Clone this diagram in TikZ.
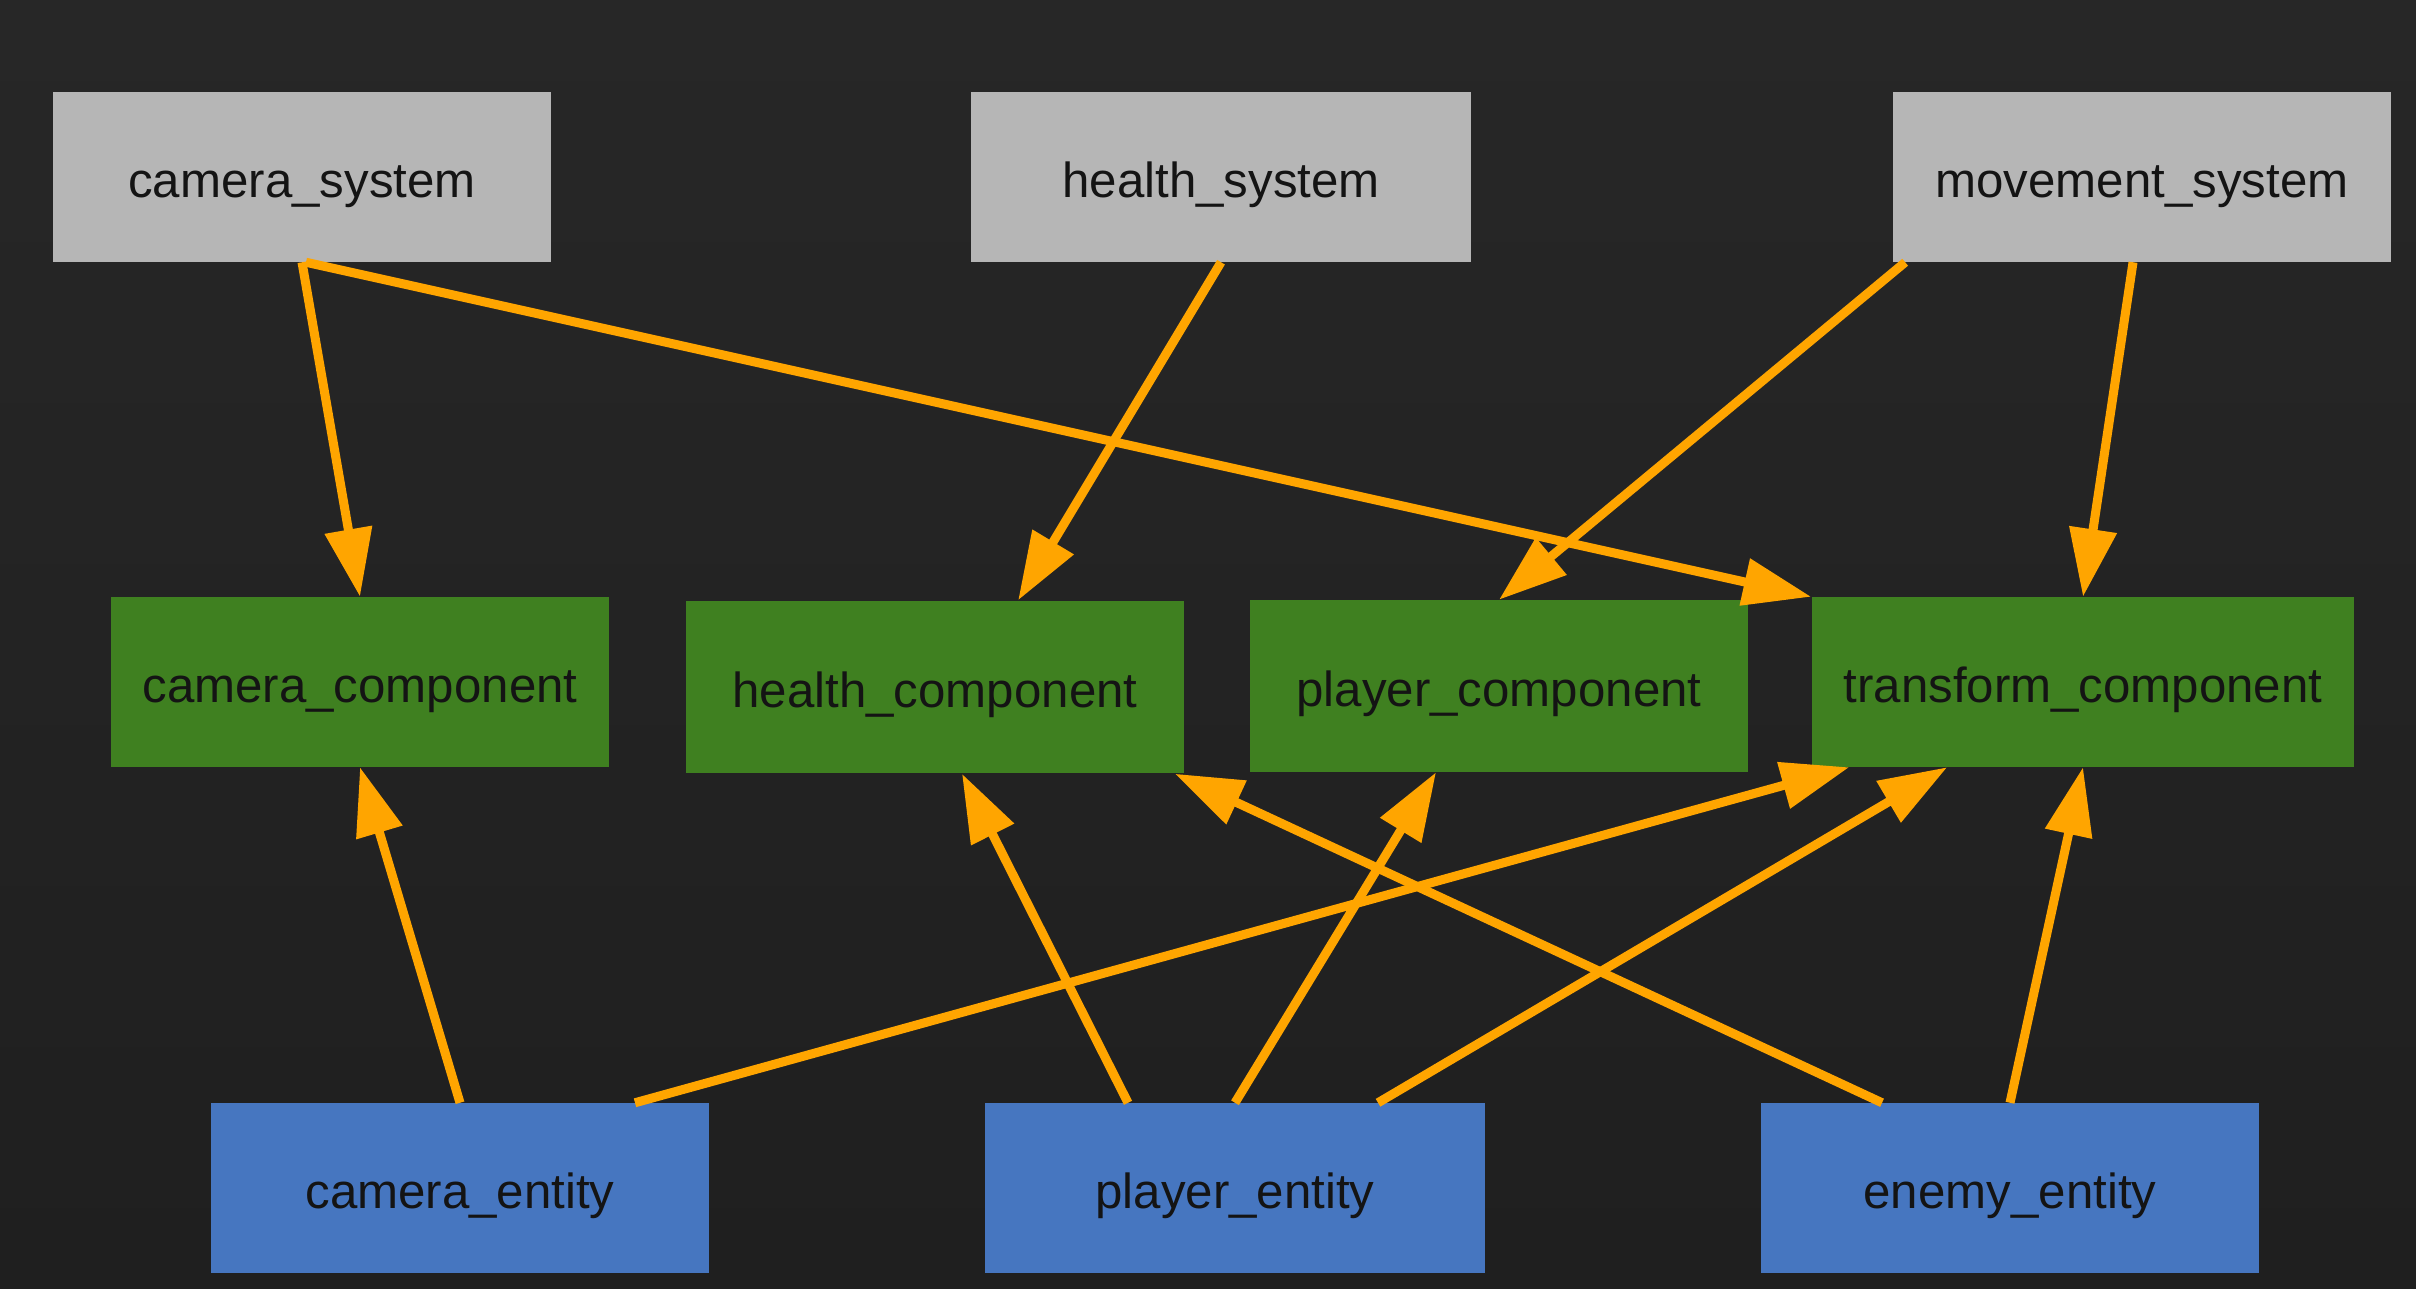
\documentclass[tikz,border=0pt]{standalone}
\usepackage{fontspec}
\setmainfont{Liberation Sans}
\usetikzlibrary{arrows.meta,calc}
\definecolor{bgtop}{HTML}{272727}
\definecolor{bgbot}{HTML}{1F1F1F}
\definecolor{sysgray}{HTML}{B6B6B6}
\definecolor{compgreen}{HTML}{3F8020}
\definecolor{entblue}{HTML}{4676C0}
\definecolor{arrorange}{HTML}{FFA500}
\tikzset{
  box/.style={rectangle, inner sep=0pt, minimum width=4.98cm, minimum height=1.69cm,
    text height=0.46cm, text depth=0.06cm,
    font=\fontsize{14pt}{16pt}\selectfont, text=black!92},
  sysbox/.style={box, fill=sysgray},
  compbox/.style={box, fill=compgreen},
  entbox/.style={box, fill=entblue},
  link/.style={draw=arrorange, line width=0.09cm,
    -{Triangle[length=0.68cm,width=0.46cm]}, fill=arrorange},
}
\begin{document}
\begin{tikzpicture}[x=0.01cm,y=-0.01cm]
\useasboundingbox (0,0) rectangle (2416,1288);
\shade[top color=bgtop, bottom color=bgbot] (0,0) rectangle (2416,1288);

% systems
\node[sysbox] (cs) at (302,177) {camera\_system};
\node[sysbox, minimum width=5.00cm] (hs) at (1221,177) {health\_system};
\node[sysbox] (ms) at (2142,177) {movement\_system};

% components
\node[compbox] (cc) at (360,682) {camera\_component};
\node[compbox, minimum height=1.72cm] (hc) at (935,687) {health\_component};
\node[compbox, minimum height=1.71cm] (pc) at (1499,686) {player\_component};
\node[compbox, minimum width=5.42cm] (tc) at (2083,682) {transform\_component};

% entities
\node[entbox] (ce) at (460,1188) {camera\_entity};
\node[entbox, minimum width=5.00cm] (pe) at (1235,1188) {player\_entity};
\node[entbox] (ee) at (2010,1188) {enemy\_entity};

% system -> component
\draw[link] (cs.south) -- (cc.north);
\draw[link] ($(cs.south)+(4,0)$) -- (tc.north west);
\draw[link] (hs.south) -- ($(hc.north west)+(333,0)$);
\draw[link] ($(ms.south west)+(13,0)$) -- (pc.north);
\draw[link] ($(ms.south)+(-9,0)$) -- (tc.north);

% entity -> component
\draw[link] (ce.north) -- (cc.south);
\draw[link] ($(ce.north)+(175,0)$) -- ($(tc.south west)+(38,0)$);
\draw[link] ($(pe.north)+(-107,0)$) -- ($(hc.south)+(27,0)$);
\draw[link] (pe.north) -- ($(pc.south)+(-63,0)$);
\draw[link] ($(pe.north)+(143,0)$) -- ($(tc.south west)+(136,0)$);
\draw[link] ($(ee.north)+(-128,0)$) -- ($(hc.south east)+(-10,0)$);
\draw[link] (ee.north) -- (tc.south);
\end{tikzpicture}
\end{document}
